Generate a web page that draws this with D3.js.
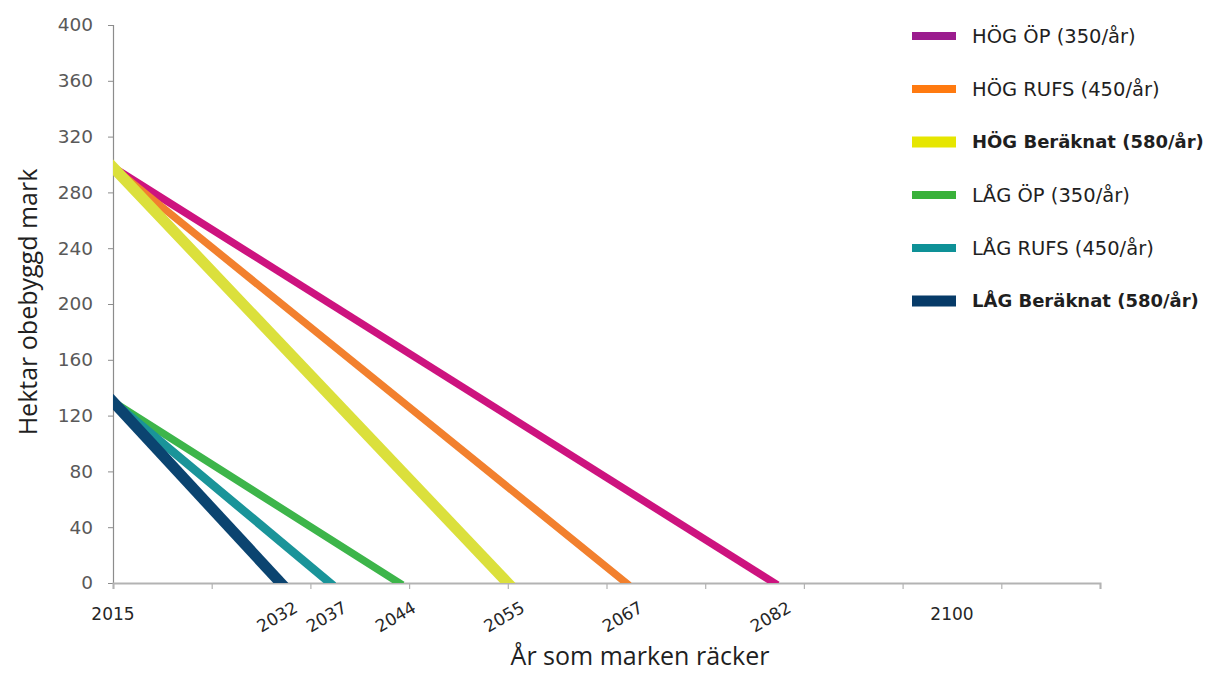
<!DOCTYPE html>
<html>
<head>
<meta charset="utf-8">
<script src="https://cdn.jsdelivr.net/npm/d3@7"></script>
<style>
  html, body { margin: 0; padding: 0; background: #fff; }
  svg { display: block; }
</style>
</head>
<body>
<svg id="chart" width="1209" height="673"></svg>
<script>
// Remaining undeveloped land (hectares) per scenario, falling linearly until it runs out
const seriesNames = [
  "HÖG ÖP (350/år)",
  "HÖG RUFS (450/år)",
  "HÖG Beräknat (580/år)",
  "LÅG ÖP (350/år)",
  "LÅG RUFS (450/år)",
  "LÅG Beräknat (580/år)"
];
const startYear = 2015;
const startValues = [298, 298, 298, 130, 130, 130];
const endYears = [2082, 2067, 2055, 2044, 2037, 2032];
const lineColors = ["#cd137f", "#f2802e", "#dbe03c", "#3db54a", "#1a9499", "#0b4470"];
const legendColors = ["#9b1c8e", "#ff7a10", "#e6e600", "#39b13a", "#0e9197", "#073b68"];
const boldNames = [false, false, true, false, false, true];
const lineWidths = [7.5, 7.5, 11, 7.5, 8.5, 11];

const yTickValues = [0, 40, 80, 120, 160, 200, 240, 280, 320, 360, 400];
const xTickMarks = [2015, 2025, 2035, 2045, 2055, 2065, 2075, 2085, 2095, 2105, 2115];
const xLabelYears = [2015, 2032, 2037, 2044, 2055, 2067, 2082, 2100];
const flatLabelYears = [2015, 2100];

const svg = d3.select("#chart");
const plot = { left: 113, right: 1100, top: 25, bottom: 583 };

const x = d3.scaleLinear().domain([2015, 2115]).range([plot.left, plot.right]);
const y = d3.scaleLinear().domain([0, 400]).range([plot.bottom, plot.top]);

svg.append("defs").append("clipPath").attr("id", "plotClip")
  .append("rect")
  .attr("x", plot.left).attr("y", plot.top)
  .attr("width", plot.right - plot.left).attr("height", plot.bottom - plot.top);

// Y axis
const yAxis = svg.append("g")
  .attr("transform", `translate(${plot.left},0)`)
  .call(d3.axisLeft(y).tickValues(yTickValues).tickSize(5).tickPadding(15).tickFormat(d3.format("d")));
yAxis.select(".domain").attr("stroke", "#8c8c8c").attr("stroke-width", 1.2);
yAxis.selectAll(".tick line").attr("stroke", "#8c8c8c");
yAxis.selectAll(".tick text")
  .attr("fill", "#595959")
  .style("font-family", "'DejaVu Sans', sans-serif")
  .style("font-size", "18.5px");

// X axis: tick marks every ten years, labels only where a scenario ends
const xAxis = svg.append("g")
  .attr("transform", `translate(0,${plot.bottom})`)
  .call(d3.axisBottom(x).tickValues(xTickMarks).tickSize(6).tickFormat(""));
xAxis.select(".domain").attr("stroke", "#b3b3b3").attr("stroke-width", 2);
xAxis.selectAll(".tick line").attr("stroke", "#b3b3b3").attr("stroke-width", 1.2);

const xLabels = svg.append("g")
  .style("font-family", "'DejaVu Sans', sans-serif")
  .style("font-size", "17px")
  .attr("fill", "#262626");

xLabels.selectAll("text.flat")
  .data(xLabelYears.filter(d => flatLabelYears.includes(d)))
  .join("text")
  .attr("class", "flat")
  .attr("x", d => x(d))
  .attr("y", plot.bottom + 37)
  .attr("text-anchor", "middle")
  .text(d => d);

xLabels.selectAll("text.rot")
  .data(xLabelYears.filter(d => !flatLabelYears.includes(d)))
  .join("text")
  .attr("class", "rot")
  .attr("text-anchor", "end")
  .attr("transform", d => `translate(${x(d) + 18},${plot.bottom + 28}) rotate(-30)`)
  .text(d => d);

// Scenario lines
const lineGen = d3.line().x(d => x(d[0])).y(d => y(d[1]));
const lines = svg.append("g").attr("clip-path", "url(#plotClip)");
seriesNames.forEach((name, i) => {
  const pts = [[startYear, startValues[i]], [endYears[i], 0]];
  lines.append("path")
    .datum(pts)
    .attr("d", lineGen)
    .attr("fill", "none")
    .attr("stroke", lineColors[i])
    .attr("stroke-width", lineWidths[i])
    .attr("stroke-linecap", "square");
});

// Legend
const legend = svg.append("g")
  .style("font-family", "'DejaVu Sans', sans-serif");
seriesNames.forEach((name, i) => {
  const cy = 36 + i * 53;
  legend.append("rect")
    .attr("x", 912).attr("y", cy - (boldNames[i] ? 5.5 : 4))
    .attr("width", 44).attr("height", boldNames[i] ? 11 : 8)
    .attr("fill", legendColors[i]);
  legend.append("text")
    .attr("x", 972).attr("y", cy)
    .attr("dy", "0.35em")
    .attr("fill", "#1f1f1f")
    .style("font-weight", boldNames[i] ? "bold" : "normal")
    .style("font-size", boldNames[i] ? "18px" : "19.5px")
    .text(name);
});

// Axis titles
svg.append("text")
  .attr("x", 640).attr("y", 665)
  .attr("text-anchor", "middle")
  .attr("fill", "#1f1f1f")
  .style("font-family", "'Open Sans', sans-serif")
  .style("font-size", "25px")
  .text("År som marken räcker");

svg.append("text")
  .attr("transform", "translate(37,302) rotate(-90)")
  .attr("text-anchor", "middle")
  .attr("fill", "#1f1f1f")
  .style("font-family", "'Open Sans', sans-serif")
  .style("font-size", "25px")
  .text("Hektar obebyggd mark");
</script>
</body>
</html>
